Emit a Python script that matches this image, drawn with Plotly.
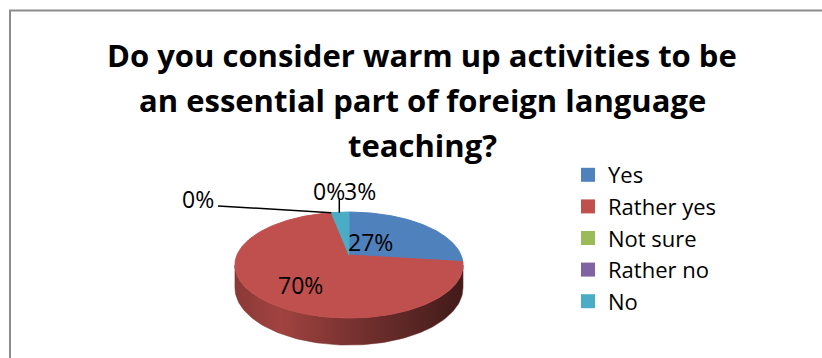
import numpy as np
import plotly.graph_objects as go

# Survey answers (percent of respondents)
categories = ["Yes", "Rather yes", "Not sure", "Rather no", "No"]
shares = [27, 70, 0, 0, 3]
slice_colors = ["#4F81BD", "#C0504D", "#9BBB59", "#8064A2", "#4BACC6"]
title_lines = [
    "Do you consider warm up activities to be",
    "an essential part of foreign language",
    "teaching?",
]

W, H = 822, 358
FONT = "Open Sans"

# Tilted disc seen in perspective (screen pixels)
CX, CY = 349.0, 255.0      # projected centre of the disc
RX, RY = 112.0, 51.1       # radii before perspective
PERSP = 0.189              # far edge shrink factor
DEPTH = 22.0               # wall height
START = 90.0               # first slice starts at 12 o'clock, clockwise


def project(t_deg, drop=0.0):
    t = np.radians(t_deg)
    u, v = np.cos(t), np.sin(t)
    w = 1.0 + PERSP * v
    return CX + RX * u / w, CY - RY * v / w + drop / w


def shade(hex_color, f):
    h = hex_color.lstrip("#")
    r, g, b = (int(h[i:i + 2], 16) for i in (0, 2, 4))
    return "rgb({},{},{})".format(int(r * f), int(g * f), int(b * f))


total = float(sum(shares))
cum = np.concatenate([[0.0], np.cumsum(shares)])
a_start = START - 360.0 * cum[:-1] / total
a_end = START - 360.0 * cum[1:] / total

# silhouette of the front wall
edge = np.degrees(np.arcsin(PERSP))
front_lo, front_hi = -180.0 + edge, -edge

fig = go.Figure()

# front walls
for cat, col, a0, a1 in zip(categories, slice_colors, a_start, a_end):
    if a0 == a1:
        continue
    for m in (-1, 0, 1):
        lo = max(a1, front_lo + 360 * m)
        hi = min(a0, front_hi + 360 * m)
        if hi <= lo:
            continue
        t = np.linspace(lo, hi, 120)
        xt, yt = project(t)
        xb, yb = project(t[::-1], DEPTH)
        fig.add_trace(go.Scatter(
            x=np.concatenate([xt, xb, xt[:1]]),
            y=np.concatenate([yt, yb, yt[:1]]),
            mode="lines", fill="toself",
            line=dict(width=0.5, color=shade(col, 0.6)),
            fillgradient=dict(
                type="horizontal",
                colorscale=[[0, shade(col, 0.72)], [0.2, shade(col, 0.84)],
                            [0.55, shade(col, 0.6)], [1, shade(col, 0.34)]],
                start=CX - RX * 1.02, stop=CX + RX * 1.02,
            ),
            hoverinfo="skip", showlegend=False,
        ))

# top faces
for cat, col, v, a0, a1 in zip(categories, slice_colors, shares, a_start, a_end):
    if a0 == a1:
        continue
    t = np.linspace(a0, a1, 200)
    xa, ya = project(t)
    fig.add_trace(go.Scatter(
        x=np.concatenate([[CX], xa, [CX]]),
        y=np.concatenate([[CY], ya, [CY]]),
        mode="lines", fill="toself", fillcolor=col,
        line=dict(width=1, color=col),
        name=cat, hovertemplate=f"{cat}: {v}%<extra></extra>",
        showlegend=False,
    ))

# legend entries
for cat, col in zip(categories, slice_colors):
    fig.add_trace(go.Scatter(
        x=[None], y=[None], mode="markers", name=cat,
        marker=dict(symbol="square", size=14, color=col),
    ))

# data labels
label_xy = {
    "Yes": (370, 242),
    "Rather yes": (300, 285),
    "Not sure": (198, 199),
    "Rather no": (329, 191),
    "No": (360, 191),
}
leader_from = {"Not sure": (218, 206), "Rather no": None}
annotations = []
for cat, v, a0, a1 in zip(categories, shares, a_start, a_end):
    lx, ly = label_xy[cat]
    annotations.append(dict(
        x=lx, y=ly, xref="x", yref="y", text=f"{v}%", showarrow=False,
        font=dict(family=FONT, size=23, color="#000000"),
        xanchor="center", yanchor="middle",
    ))
    if cat in leader_from:
        px, py = project((a0 + a1) / 2.0)
        sx, sy = leader_from[cat] if leader_from[cat] else (px + 8, 198)
        ex = px if leader_from[cat] else px + 8
        fig.add_trace(go.Scatter(
            x=[sx, ex], y=[sy, py], mode="lines",
            line=dict(color="#000000", width=1.5),
            hoverinfo="skip", showlegend=False,
        ))

for i, line in enumerate(title_lines):
    annotations.append(dict(
        x=422, y=55 + 45 * i, xref="x", yref="y", text=f"<b>{line}</b>",
        showarrow=False, font=dict(family=FONT, size=31, color="#000000"),
        xanchor="center", yanchor="middle",
    ))

fig.update_layout(
    width=W, height=H,
    margin=dict(l=0, r=0, t=0, b=0),
    paper_bgcolor="#FFFFFF", plot_bgcolor="#FFFFFF",
    xaxis=dict(range=[0, W], visible=False, fixedrange=True),
    yaxis=dict(range=[H, 0], visible=False, fixedrange=True),
    annotations=annotations,
    shapes=[dict(type="rect", xref="x", yref="y", x0=10, y0=10.5,
                 x1=W + 20, y1=H + 20,
                 line=dict(color="#8C8C8C", width=2))],
    legend=dict(
        x=568 / W, y=1 - 154 / H, xanchor="left", yanchor="top",
        font=dict(family=FONT, size=22, color="#000000"),
        bgcolor="rgba(0,0,0,0)", itemwidth=30, tracegroupgap=0,
    ),
    showlegend=True,
)

fig.write_html("out.html")
